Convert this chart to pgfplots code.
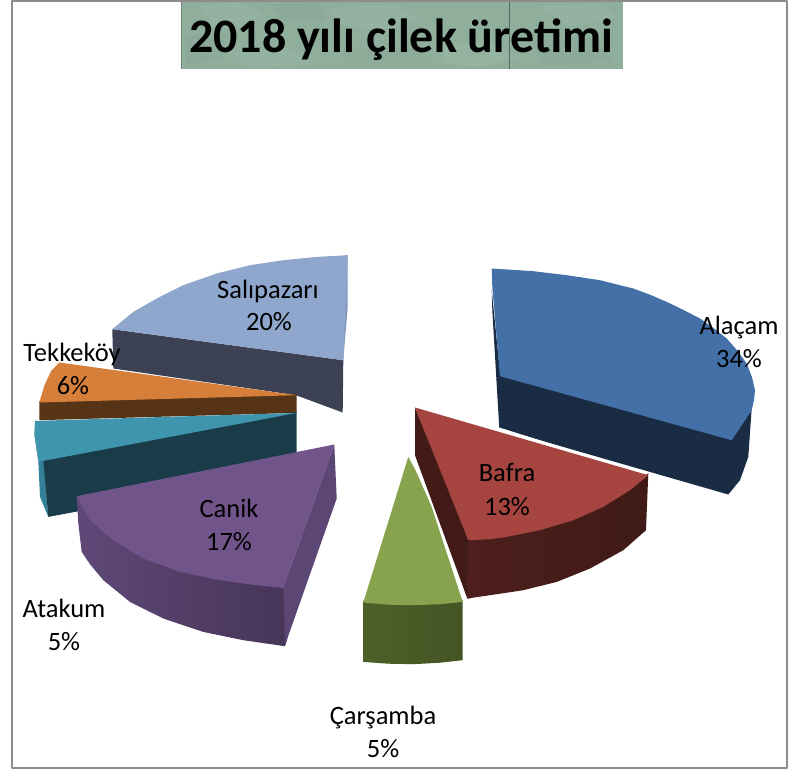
\documentclass[border=0pt]{standalone}
\usepackage{pgfplots}
\pgfplotsset{compat=1.18}
\usepackage{fontspec}
\setmainfont{Carlito}
\definecolor{titlebg}{HTML}{8FAE9C}
\definecolor{titlehi}{HTML}{B2CBBD}
\definecolor{titlelo}{HTML}{78998A}
\definecolor{frame}{HTML}{8C8C8C}
\definecolor{saltop}{HTML}{8FA6CD}
\definecolor{salrim}{HTML}{8196BD}
\definecolor{salside}{HTML}{3C4153}
\definecolor{tektop}{HTML}{D57F3A}
\definecolor{tekside}{HTML}{583417}
\definecolor{atatop}{HTML}{3F95AE}
\definecolor{atarim}{HTML}{348099}
\definecolor{ataside}{HTML}{193C48}
\definecolor{cantop}{HTML}{71548A}
\definecolor{canwall}{HTML}{5C4674}
\definecolor{canl}{HTML}{5F4878}
\definecolor{canr}{HTML}{473558}
\definecolor{alatop}{HTML}{4370A6}
\definecolor{alaside}{HTML}{1A2C43}
\definecolor{baftop}{HTML}{A64440}
\definecolor{bafwall}{HTML}{421B18}
\definecolor{bafl}{HTML}{4E1F1C}
\definecolor{bafr}{HTML}{3F1A17}
\definecolor{cartop}{HTML}{87A34D}
\definecolor{carl}{HTML}{4E6029}
\definecolor{carr}{HTML}{445424}
\newcommand{\lab}{\fontsize{26.5}{26.5}\selectfont}
\begin{document}
\begin{tikzpicture}
\begin{axis}[
  scale only axis, width=804pt, height=772pt,
  xmin=0, xmax=804, ymin=0, ymax=772, y dir=reverse,
  hide axis, clip=false,
  every axis plot/.append style={draw=none, mark=none, line join=round},
]
% page
\addplot[fill=white] coordinates {(0,0) (804,0) (804,772) (0,772)} --cycle;
\addplot[draw=frame, line width=2pt] coordinates {(11.5,0.8) (787,0.8) (787,767.5) (11.5,767.5)} --cycle;
% title box
\addplot[fill=titlebg] coordinates {(181,1.5) (623,1.5) (623,68.5) (181,68.5)} --cycle;
\addplot[fill=titlehi, fill opacity=0.16] coordinates {(200,5) (240,2) (262,14) (246,30) (212,26)} --cycle;
\addplot[fill=titlehi, fill opacity=0.16] coordinates {(330,8) (395,4) (420,20) (380,30) (340,24)} --cycle;
\addplot[fill=titlehi, fill opacity=0.18] coordinates {(440,46) (490,40) (520,58) (480,67) (445,63)} --cycle;
\addplot[fill=titlehi, fill opacity=0.16] coordinates {(540,6) (600,3) (618,18) (570,26)} --cycle;
\addplot[fill=titlehi, fill opacity=0.16] coordinates {(230,52) (290,48) (310,64) (250,67)} --cycle;
\addplot[fill=titlelo, fill opacity=0.15] coordinates {(270,4) (320,3) (325,20) (285,22)} --cycle;
\addplot[fill=titlelo, fill opacity=0.15] coordinates {(185,36) (225,34) (222,60) (186,64)} --cycle;
\addplot[fill=titlelo, fill opacity=0.15] coordinates {(530,40) (590,36) (615,60) (545,66)} --cycle;
\addplot[fill=titlelo, fill opacity=0.12] coordinates {(340,50) (420,46) (428,66) (345,67)} --cycle;
\addplot[draw=titlebg!60!black, line width=0.5pt] coordinates {(509.5,1.5) (509.5,68.5)};
\addplot[draw=titlebg!75!black, line width=0.5pt] coordinates {(181.3,1.5) (181.3,68.5)};
% Salipazari
\addplot[fill=salside] coordinates {(112.3,329) (113.3,368.3) (296,395) (342.7,412.3) (343.3,360)} --cycle;
\addplot[fill=salrim] coordinates {(347.7,255) (347.7,306.7) (343.3,360) (340,360) (345,255)} --cycle;
\addplot[fill=saltop] coordinates {(347.7,255) (316.7,256.7) (283.3,260) (250,265) (216.7,273.3) (183.3,285) (156.7,298.3) (133.3,311.7) (112.3,329) (343.3,360) (345.5,306)} --cycle;
% Tekkekoy
\addplot[fill=tekside] coordinates {(39.3,401) (39.3,420) (296.7,412.7) (296.7,394)} --cycle;
\addplot[fill=tektop] coordinates {(296.7,395) (59.3,362.3) (51,371) (44.5,385) (39.3,402.3)} --cycle;
% Atakum
\addplot[fill=atarim] coordinates {(34.3,433.3) (38.3,460.7) (40,496.7) (48.3,516.7) (44,460)} --cycle;
\addplot[fill=ataside] coordinates {(296.7,411.7) (43.3,459.7) (48.3,516.7) (296.7,470)} --cycle;
\addplot[fill=atatop] coordinates {(296.7,412.7) (35,420.7) (34.3,433.3) (38.3,460.7) (43.3,460.7)} --cycle;
% Canik
\addplot[left color=canl, right color=canr] coordinates {(76.7,496) (78.3,523) (81.7,551.7) (90,564) (103.3,580) (130,601.7) (163.3,618.3) (203.3,631.7) (243.3,640) (285,646) (287,640) (287,587.7) (256.7,583) (220,578) (180,569.7) (143.3,556.3) (113.3,538) (90,518)} --cycle;
\addplot[fill=canwall] coordinates {(334.3,444.3) (336.7,498.3) (285,645) (283.3,587.3)} --cycle;
\addplot[fill=cantop] coordinates {(334.3,444.3) (76.7,496) (90,520) (113.3,540) (143.3,558.3) (180,571.7) (220,580) (256.7,585) (283.3,587.7)} --cycle;
% Alacam
\addplot[fill=alaside] coordinates {(491.7,290) (492.3,310) (499.3,428.3) (728.3,494.3) (740,480) (748.3,456.7) (751.7,408) (731.7,436) (500,372)} --cycle;
\addplot[fill=alatop] coordinates {(491.7,268.3) (533.3,271) (566.7,275) (600,280) (633.3,288.3) (650,294.5) (666.7,301.7) (683,309.5) (700,318.3) (713,327.5) (726.7,338.3) (737,350) (746.7,363.3) (752,377) (755,390) (754,400) (751.7,410) (731.7,440) (500,376) (492.3,286.7)} --cycle;
% Bafra
\addplot[draw=white, line width=1.5pt] coordinates {(499,428) (648.3,475)};
\addplot[fill=bafwall] coordinates {(415,407.3) (415,455) (467.3,598.3) (470,598) (470,540)} --cycle;
\addplot[left color=bafl, right color=bafr] coordinates {(468.3,538) (467.3,598.3) (490,595) (523.3,590) (556.7,581.7) (590,568.3) (623.3,550) (646,530) (648.3,473) (630,488) (603.3,504.7) (573.3,518) (540,528) (506.7,534.7) (490,537)} --cycle;
\addplot[fill=baftop] coordinates {(415,407.3) (648.3,475) (630,490) (603.3,506.7) (573.3,520) (540,530) (506.7,536.7) (490,539) (468.3,540)} --cycle;
% Carsamba
\addplot[draw=white, line width=1.5pt] coordinates {(412,454) (431.7,504.7) (465,600)};
\addplot[left color=carl, right color=carr] coordinates {(363.3,600.3) (363.3,661.7) (388,663.5) (413.3,664) (440,662.5) (462.7,660) (462.7,599.7) (440,602) (413.3,603) (388,602.5)} --cycle;
\addplot[fill=cartop] coordinates {(408.3,456.7) (363.3,602.3) (388,604.5) (413.3,605) (440,604) (462.7,601.7) (431.7,506.7) (415.5,470)} --cycle;
% text
\node[anchor=base] at (axis cs:401,52.7) {\fontsize{48}{48}\selectfont\bfseries 2018 yılı çilek üretimi};
\node[anchor=base] at (axis cs:268,298) {\lab Salıpazarı};
\node[anchor=base] at (axis cs:269,330) {\lab 20\%};
\node[anchor=base] at (axis cs:72,361.7) {\lab Tekkeköy};
\node[anchor=base] at (axis cs:73,394) {\lab 6\%};
\node[anchor=base] at (axis cs:739,334) {\lab Alaçam};
\node[anchor=base] at (axis cs:739,367.7) {\lab 34\%};
\node[anchor=base] at (axis cs:507,481.7) {\lab Bafra};
\node[anchor=base] at (axis cs:507,515) {\lab 13\%};
\node[anchor=base] at (axis cs:229,517.7) {\lab Canik};
\node[anchor=base] at (axis cs:229,550) {\lab 17\%};
\node[anchor=base] at (axis cs:64,617.7) {\lab Atakum};
\node[anchor=base] at (axis cs:64,650) {\lab 5\%};
\node[anchor=base] at (axis cs:383,724) {\lab Çarşamba};
\node[anchor=base] at (axis cs:383,757.7) {\lab 5\%};
\end{axis}
\end{tikzpicture}
\end{document}
